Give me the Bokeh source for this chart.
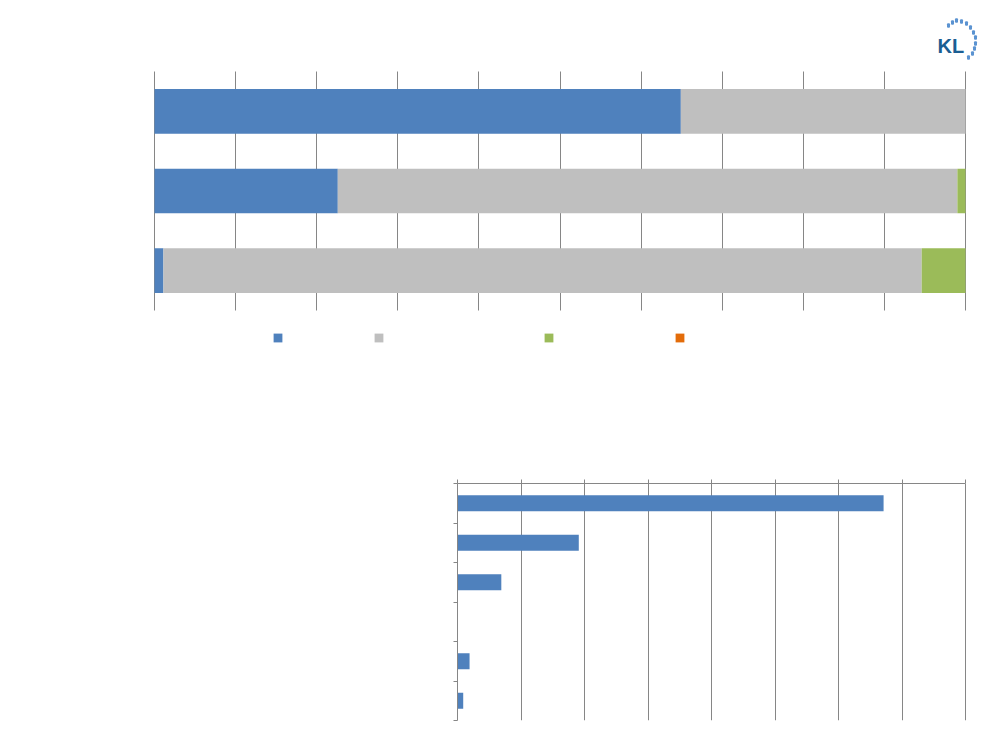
from bokeh.plotting import figure
from bokeh.models import (Range1d, FixedTicker, Legend, LegendItem, Label,
                          BoxAnnotation, ColumnDataSource, CustomJSTickFormatter)
from bokeh.embed import file_html
from bokeh.resources import INLINE

# ---------------- data ----------------
rows = ["Row 1", "Row 2", "Row 3"]
series_keys = ["s1", "s2", "s3", "s4"]
series_colors = ["#4F81BD", "#BFBFBF", "#9BBB59", "#E36C0A"]
s1 = [64.9, 22.6, 1.1]
s2 = [35.1, 76.4, 93.5]
s3 = [0.0, 1.0, 5.4]
s4 = [0.0, 0.0, 0.0]

cats2 = ["C1", "C2", "C3", "C4", "C5", "C6"]
vals2 = [67.1, 19.1, 6.9, 0.0, 1.9, 0.9]

GRID = "#868686"
empty_fmt = CustomJSTickFormatter(code="return ''")

# ---------------- top chart (100% stacked bars) ----------------
# pixel layout of the top chart
GT, GB, FT, FB = 71, 310, 10, 350      # grid top/bottom, frame top/bottom
GL, GR, FL, FR = 154, 965, 150, 990    # grid left/right, frame left/right
uy = (GB - GT) / len(rows)
ux = (GR - GL) / 100.0
p = figure(width=1000, height=400,
           x_range=Range1d(-(GL - FL) / ux, 100 + (FR - GR) / ux),
           y_range=Range1d(-(FB - GB) / uy, len(rows) + (GT - FT) / uy),
           output_backend="svg", toolbar_location=None,
           min_border_left=FL, min_border_right=1000 - FR,
           min_border_top=FT, min_border_bottom=400 - FB)
ypos1 = [len(rows) - i - 0.5 for i in range(len(rows))]
src = ColumnDataSource(dict(y=ypos1, s1=s1, s2=s2, s3=s3, s4=s4))
rends = p.hbar_stack(series_keys, y="y", height=0.56, color=series_colors,
                     line_width=0, source=src)
p.outline_line_color = None
p.xaxis.visible = False
p.yaxis.visible = False
p.ygrid.visible = False
p.xgrid.ticker = FixedTicker(ticks=list(range(0, 101, 10)))
p.xgrid.grid_line_color = GRID
p.xgrid.grid_line_width = 1
p.xgrid.cross_bounds = (0, len(rows))

for r, xo in zip(rends, [122, 223, 393, 524]):
    leg = Legend(items=[LegendItem(label="", renderers=[r])],
                 location=(xo, 7), orientation="horizontal",
                 padding=0, margin=0, spacing=0,
                 border_line_color=None, background_fill_alpha=0,
                 glyph_width=11, glyph_height=11,
                 label_width=0, label_height=11, label_standoff=0)
    p.add_layout(leg)

# logo
p.add_layout(Label(x=937 - FL, y=FB - 45, x_units="screen", y_units="screen", text="KL",
                   text_font="Liberation Sans", text_font_style="bold",
                   text_font_size="20px", text_color="#1B5E93",
                   text_baseline="alphabetic"))
dots = [(948, 25), (952, 22), (956, 20), (961, 21), (966, 23), (970, 27), (973, 32),
        (975, 37), (975, 43), (974, 48), (972, 53), (968, 57)]
for (dx, dy) in dots:
    fx = dx - FL
    fy = FB - dy
    p.add_layout(BoxAnnotation(left=fx - 1.5, right=fx + 1.5, bottom=fy - 2.3, top=fy + 2.3,
                               left_units="screen", right_units="screen",
                               top_units="screen", bottom_units="screen",
                               fill_color="#5B93D1", fill_alpha=1, line_color=None,
                               border_radius=1))

# ---------------- bottom chart ----------------
XMAX = 80
QL, QR, QFR = 457, 965, 975
qux = (QR - QL) / XMAX
q = figure(width=1000, height=350,
           x_range=Range1d(0, XMAX + (QFR - QR) / qux), y_range=Range1d(0, len(cats2)),
           x_axis_location="above",
           output_backend="svg", toolbar_location=None,
           min_border_left=QL, min_border_right=1000 - QFR,
           min_border_top=83, min_border_bottom=30)
ypos = [len(cats2) - i - 0.5 for i in range(len(cats2))]
q.hbar(y=ypos, left=0, right=vals2, height=0.4, color="#4F81BD", line_width=0)
q.outline_line_color = None
q.xaxis.ticker = FixedTicker(ticks=list(range(0, XMAX + 1, 10)))
q.xaxis.bounds = (0, XMAX)
q.yaxis.ticker = FixedTicker(ticks=list(range(0, len(cats2) + 1)))
for ax in (q.xaxis[0], q.yaxis[0]):
    ax.formatter = empty_fmt
    ax.major_tick_in = 0
    ax.major_tick_out = 4
    ax.minor_tick_line_color = None
    ax.axis_line_color = GRID
    ax.major_tick_line_color = GRID
q.xgrid.grid_line_color = GRID
q.ygrid.visible = False

open("out.html", "w").write(file_html([p, q], INLINE))
